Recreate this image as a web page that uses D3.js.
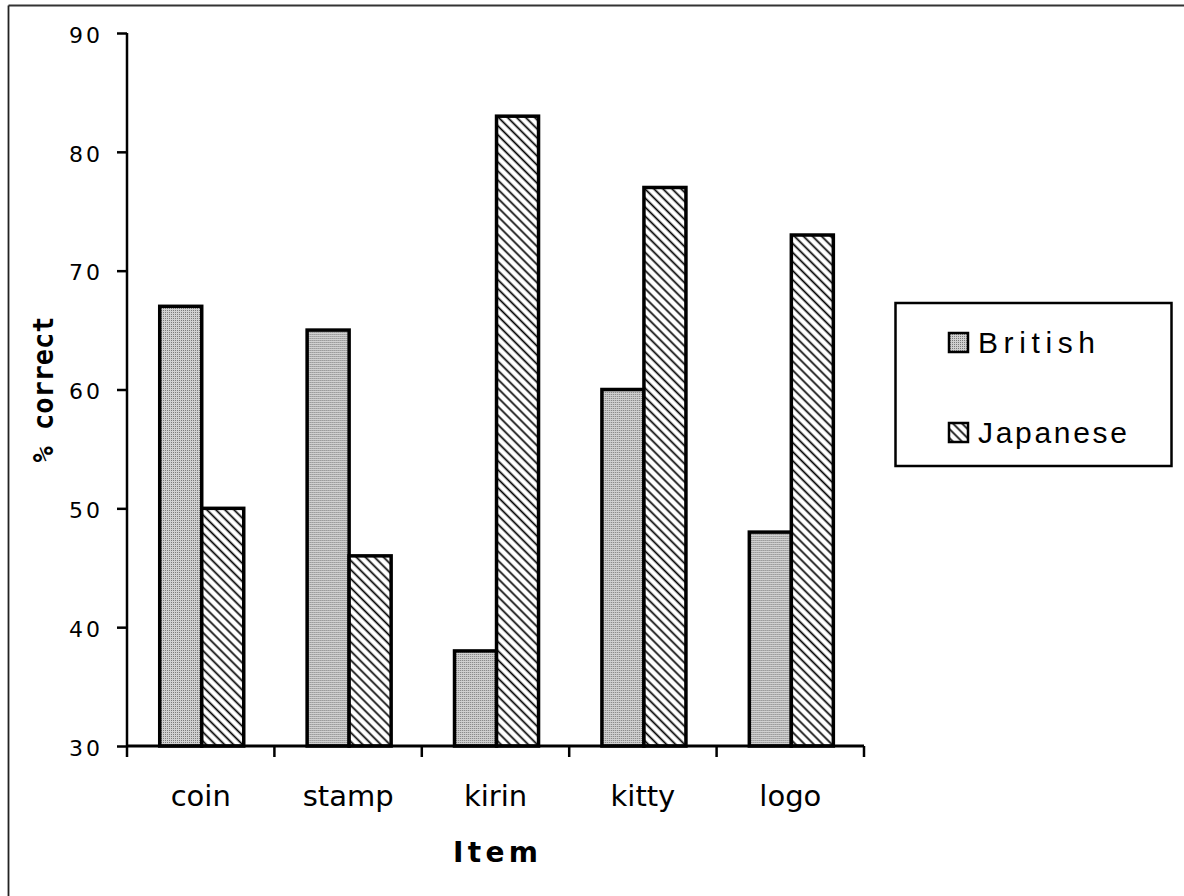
<!DOCTYPE html>
<html>
<head>
<meta charset="utf-8">
<script src="https://cdn.jsdelivr.net/npm/d3@7"></script>
<style>
  html, body { margin: 0; padding: 0; background: #fff; }
  svg { display: block; }
</style>
</head>
<body>
<svg id="chart" width="1184" height="896"></svg>
<script>
const categories = ["coin", "stamp", "kirin", "kitty", "logo"];
const series = ["British", "Japanese"];
const britishValues = [67, 65, 38, 60, 48];
const japaneseValues = [50, 46, 83, 77, 73];
const yTicks = [30, 40, 50, 60, 70, 80, 90];
const yLabel = "% correct";
const xLabel = "Item";

const svg = d3.select("#chart");
const defs = svg.append("defs");

// stipple grey for British
const stip = defs.append("pattern").attr("id", "stipple")
  .attr("patternUnits", "userSpaceOnUse").attr("width", 2).attr("height", 2);
stip.append("rect").attr("width", 2).attr("height", 2).attr("fill", "#d0d0d0");
stip.append("rect").attr("width", 1).attr("height", 1).attr("fill", "#7a7a7a");

// diagonal hatch for Japanese
const hatch = defs.append("pattern").attr("id", "hatch")
  .attr("patternUnits", "userSpaceOnUse").attr("width", 6.4).attr("height", 6.4)
  .attr("patternTransform", "rotate(-45)");
hatch.append("rect").attr("width", 6.4).attr("height", 6.4).attr("fill", "#fff");
hatch.append("line").attr("x1", 3.2).attr("x2", 3.2).attr("y1", 0).attr("y2", 6.4)
  .attr("stroke", "#000").attr("stroke-width", 1.7);

const fills = { British: "url(#stipple)", Japanese: "url(#hatch)" };

// outer frame (top & left edges)
svg.append("line").attr("x1", 8.5).attr("x2", 1184).attr("y1", 5.5).attr("y2", 5.5)
  .attr("stroke", "#333").attr("stroke-width", 2);
svg.append("line").attr("x1", 8.5).attr("x2", 8.5).attr("y1", 5.5).attr("y2", 896)
  .attr("stroke", "#222").attr("stroke-width", 1.8);

const plotLeft = 127, plotRight = 864, plotTop = 33, plotBottom = 746;

const y = d3.scaleLinear().domain([30, 90]).range([plotBottom, plotTop]);
const x0 = d3.scaleBand().domain(categories).range([plotLeft, plotRight]).paddingInner(0).paddingOuter(0);
const bw = x0.bandwidth();
const x1 = d3.scaleBand().domain(series).range([bw * 0.222, bw * 0.792]).padding(0);

const data = categories.map((c, i) => ({
  cat: c,
  vals: [
    { s: "British", v: britishValues[i] },
    { s: "Japanese", v: japaneseValues[i] }
  ]
}));

// bars
const g = svg.append("g");
g.selectAll("g.cat").data(data).join("g")
  .attr("class", "cat")
  .attr("transform", d => `translate(${x0(d.cat)},0)`)
  .selectAll("rect").data(d => d.vals).join("rect")
  .attr("x", d => x1(d.s))
  .attr("y", d => y(d.v))
  .attr("width", x1.bandwidth())
  .attr("height", d => y(30) - y(d.v))
  .attr("fill", d => fills[d.s])
  .attr("stroke", "#000")
  .attr("stroke-width", 3.5);

// y axis
const yAxis = d3.axisLeft(y).tickValues(yTicks).tickSize(10).tickPadding(0).tickFormat(d3.format("d"));
const yg = svg.append("g").attr("transform", `translate(${plotLeft},0)`).call(yAxis);
yg.select(".domain").attr("d", `M0,${plotTop}V${plotBottom}`).attr("stroke", "#000").attr("stroke-width", 2.5);
yg.selectAll(".tick line").attr("stroke", "#000").attr("stroke-width", 2.5);
yg.selectAll(".tick text")
  .attr("x", -24)
  .attr("dy", "0.42em")
  .style("font-family", "DejaVu Sans, sans-serif")
  .style("font-size", "22px")
  .style("letter-spacing", "3px")
  .attr("fill", "#000")
  .attr("text-anchor", "end");

// x axis
const xAxis = d3.axisBottom(x0).tickSize(0).tickPadding(0);
const xg = svg.append("g").attr("transform", `translate(0,${plotBottom})`).call(xAxis);
xg.select(".domain").attr("d", `M${plotLeft - 1},0H${plotRight}`).attr("stroke", "#000").attr("stroke-width", 3);
xg.selectAll(".tick text")
  .attr("y", 60).attr("dy", 0)
  .style("font-family", "DejaVu Sans, sans-serif")
  .style("font-size", "29px")
  .attr("fill", "#000");
// boundary ticks between categories
const bounds = categories.map(c => x0(c)).concat([x0(categories[categories.length - 1]) + bw]);
xg.selectAll("line.bound").data(bounds).join("line")
  .attr("class", "bound")
  .attr("x1", d => d).attr("x2", d => d)
  .attr("y1", 0).attr("y2", 11)
  .attr("stroke", "#000").attr("stroke-width", 2.5);

// axis titles
svg.append("text")
  .attr("transform", `translate(53,${(plotTop + plotBottom) / 2}) rotate(-90)`)
  .attr("text-anchor", "middle")
  .style("font-family", "DejaVu Sans Mono, monospace")
  .style("font-weight", "bold")
  .style("font-size", "29px")
  .attr("textLength", 146)
  .attr("lengthAdjust", "spacingAndGlyphs")
  .attr("fill", "#000")
  .text(yLabel);

svg.append("text")
  .attr("x", (plotLeft + plotRight) / 2)
  .attr("y", 862)
  .attr("text-anchor", "middle")
  .style("font-family", "DejaVu Sans, sans-serif")
  .style("font-weight", "bold")
  .style("font-size", "28px")
  .attr("textLength", 85)
  .attr("lengthAdjust", "spacing")
  .attr("fill", "#000")
  .text(xLabel);

// legend
const lg = svg.append("g");
lg.append("rect").attr("x", 895.5).attr("y", 303).attr("width", 276).attr("height", 163)
  .attr("fill", "#fff").attr("stroke", "#000").attr("stroke-width", 2.5);
const legendRows = [
  { s: "British", sy: 333, ty: 353, len: 117 },
  { s: "Japanese", sy: 423, ty: 443, len: 149 }
];
legendRows.forEach(r => {
  lg.append("rect").attr("x", 949).attr("y", r.sy).attr("width", 19).attr("height", 19)
    .attr("fill", fills[r.s]).attr("stroke", "#000").attr("stroke-width", 2.5);
  lg.append("text").attr("x", 978).attr("y", r.ty)
    .style("font-family", "Liberation Sans, Arial, sans-serif")
    .style("font-size", "30px")
    .attr("textLength", r.len)
    .attr("lengthAdjust", "spacing")
    .attr("fill", "#000")
    .text(r.s);
});
</script>
</body>
</html>
